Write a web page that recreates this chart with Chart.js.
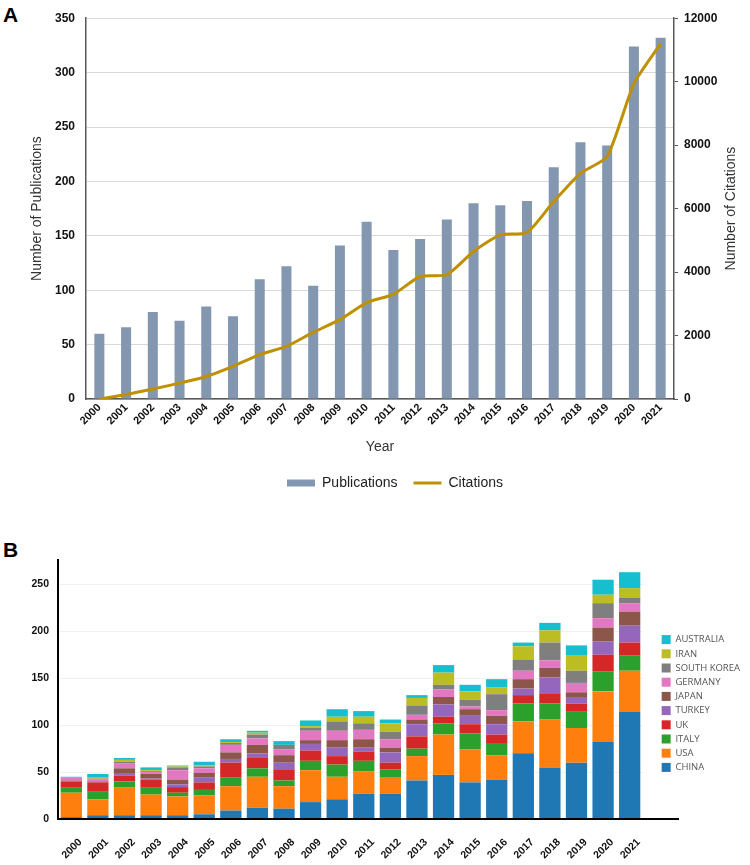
<!DOCTYPE html>
<html>
<head>
<meta charset="utf-8">
<script src="https://cdn.jsdelivr.net/npm/chart.js@4/dist/chart.umd.min.js"></script>
<style>
body { margin: 0; background: #fff; width: 750px; height: 865px; position: relative; overflow: hidden; font-family: 'Liberation Sans', Arial, sans-serif; }
.panel { position: absolute; left: 3px; font-weight: bold; font-size: 21px; color: #000; }
#chartA { position: absolute; left: 0; top: 0; }
#chartB { position: absolute; left: 0; top: 530px; }
</style>
</head>
<body>
<div class="panel" style="top:3px">A</div>
<div class="panel" style="top:538px">B</div>
<canvas id="chartA" width="750" height="500"></canvas>
<canvas id="chartB" width="750" height="335"></canvas>
<script>
var years = ['2000','2001','2002','2003','2004','2005','2006','2007','2008','2009','2010',
	'2011','2012','2013','2014','2015','2016','2017','2018','2019','2020','2021'];

// panel A
var publications = [60, 66, 80, 72, 85, 76, 110, 122, 104, 141, 163, 137, 147, 165, 180, 178, 182, 213, 236, 233, 324, 332];
var citations = [0, 140, 315, 500, 710, 1030, 1400, 1660, 2100, 2500, 3040, 3300, 3860, 3915, 4650, 5170, 5245, 6220, 7110, 7640, 9940, 11200];

// panel B, one array per country
var countries = ['CHINA', 'USA', 'ITALY', 'UK', 'TURKEY', 'JAPAN', 'GERMANY', 'SOUTH KOREA', 'IRAN', 'AUSTRALIA'];
var countryColors = ['#1f77b4', '#ff7f0e', '#2ca02c', '#d62728', '#9467bd', '#8c564b', '#e377c2', '#7f7f7f', '#bcbd22', '#17becf'];
var china = [2, 4, 4, 4, 4, 5, 9, 12, 11, 18, 21, 27, 27, 41, 47, 39, 42, 70, 55, 60, 82, 114];
var usa = [26, 17, 30, 22, 20, 20, 26, 33, 24, 34, 24, 24, 17, 26, 43, 35, 26, 34, 51, 37, 54, 44];
var italy = [6, 8, 6, 8, 4, 6, 9, 9, 6, 10, 13, 11, 9, 8, 12, 17, 13, 19, 17, 18, 21, 16];
var uk = [6, 10, 6, 8, 6, 8, 16, 11, 12, 11, 9, 10, 7, 13, 7, 10, 9, 9, 11, 8, 18, 14];
var turkey = [0, 0, 3, 1, 3, 5, 4, 5, 7, 7, 9, 4, 11, 13, 13, 9, 11, 7, 17, 7, 14, 18];
var japan = [1, 1, 5, 5, 5, 5, 7, 9, 8, 4, 8, 9, 5, 5, 8, 7, 9, 10, 10, 5, 15, 15];
var germany = [3, 2, 5, 2, 10, 5, 8, 7, 6, 10, 10, 10, 9, 5, 8, 3, 6, 9, 8, 10, 10, 9];
var southKorea = [0, 1, 2, 1, 3, 2, 2, 4, 5, 3, 10, 7, 8, 10, 5, 7, 17, 12, 19, 13, 16, 6];
var iran = [0, 1, 2, 1, 1, 1, 1, 2, 0, 2, 5, 7, 9, 8, 13, 9, 7, 14, 13, 16, 9, 10];
var australia = [1, 4, 2, 3, 1, 4, 3, 2, 4, 6, 8, 6, 4, 3, 8, 7, 9, 4, 8, 11, 16, 17];
var countryValues = [china, usa, italy, uk, turkey, japan, germany, southKorea, iran, australia];

var family = "'Liberation Sans', Arial, sans-serif";
Chart.defaults.font.family = family;
Chart.defaults.animation = false;

// right axis title reads bottom-to-top like the left one; legend nudged right
var panelA = {
	id: 'panelA',
	afterLayout: function(chart) {
		chart.legend.left += 20;
		chart.legend.right += 20;
	},
	afterDraw: function(chart) {
		var s = chart.scales.y2, ctx = chart.ctx;
		ctx.save();
		ctx.translate(s.right - 19, (s.top + s.bottom) / 2);
		ctx.rotate(-Math.PI / 2);
		ctx.font = '14px ' + family;
		ctx.fillStyle = '#333';
		ctx.textAlign = 'center';
		ctx.textBaseline = 'middle';
		ctx.fillText('Number of Citations', 0, 0);
		ctx.restore();
	}
};

new Chart(document.getElementById('chartA'), {
	data: {
		labels: years,
		datasets: [{
			type: 'bar', label: 'Publications', data: publications,
			backgroundColor: '#8497B0', barPercentage: 0.375, categoryPercentage: 1,
			yAxisID: 'y', order: 2, pointStyle: 'rect'
		}, {
			type: 'line', label: 'Citations', data: citations,
			borderColor: '#BF9000', backgroundColor: '#BF9000', borderWidth: 3,
			pointRadius: 0, tension: 0.2, yAxisID: 'y2', order: 1, pointStyle: 'line'
		}]
	},
	options: {
		responsive: false,
		layout: { padding: { top: 6 } },
		plugins: {
			tooltip: { enabled: false },
			legend: {
				position: 'bottom',
				labels: {
					usePointStyle: true, pointStyleWidth: 28, boxHeight: 7, padding: 16,
					color: '#222', font: { size: 14 },
					sort: function(a, b) { return a.datasetIndex - b.datasetIndex; }
				}
			}
		},
		scales: {
			x: {
				grid: { display: false, drawTicks: false },
				border: { color: '#595959', width: 1.5 },
				ticks: { minRotation: 45, maxRotation: 45, padding: 2, color: '#111', font: { size: 11, weight: 'bold' } },
				title: { display: true, text: 'Year', color: '#333', font: { size: 14 }, padding: { top: 0, bottom: 4 } },
				afterFit: function(s) { s.height = 61; }
			},
			y: {
				position: 'left', min: 0, max: 350,
				ticks: { stepSize: 50, padding: 11, color: '#111', font: { size: 12, weight: 'bold' } },
				grid: { color: '#d9d9d9', drawTicks: false },
				border: { color: '#595959', width: 1.5 },
				title: { display: true, text: 'Number of Publications', color: '#333', font: { size: 14 }, padding: { top: 29 } },
				afterFit: function(s) { s.width = 86; }
			},
			y2: {
				position: 'right', min: 0, max: 12000,
				ticks: {
					stepSize: 2000, padding: 6, color: '#111', font: { size: 12, weight: 'bold' },
					callback: function(v) { return String(v); }
				},
				grid: { drawOnChartArea: false, tickLength: 4, tickColor: '#595959' },
				border: { color: '#595959', width: 1.5 },
				afterFit: function(s) { s.width = 76; }
			}
		}
	},
	plugins: [panelA]
});

// x axis line in B runs on past the last bar; legend sits a bit off the plot
var panelB = {
	id: 'panelB',
	afterLayout: function(chart) {
		var lg = chart.legend;
		lg.left += 14;
		lg.right += 14;
		lg.top -= 9;
		lg.bottom -= 9;
	},
	afterDraw: function(chart) {
		var a = chart.chartArea, ctx = chart.ctx;
		ctx.save();
		ctx.strokeStyle = '#000';
		ctx.lineWidth = 2;
		ctx.beginPath();
		ctx.moveTo(a.left - 1, a.bottom);
		ctx.lineTo(a.right + 36, a.bottom);
		ctx.stroke();
		ctx.restore();
	}
};

var stackSets = [];
for (var i = 0; i < countries.length; i++) {
	stackSets.push({
		label: countries[i], data: countryValues[i],
		backgroundColor: countryColors[i], borderWidth: 0,
		barPercentage: 0.8, categoryPercentage: 1
	});
}

new Chart(document.getElementById('chartB'), {
	type: 'bar',
	data: { labels: years, datasets: stackSets },
	options: {
		responsive: false,
		layout: { padding: { top: 30, right: 14 } },
		plugins: {
			tooltip: { enabled: false },
			legend: {
				position: 'right', reverse: true,
				labels: { boxWidth: 9, boxHeight: 9, padding: 4.7, color: '#555', font: { family: "'Open Sans'", size: 9.5 } }
			}
		},
		scales: {
			x: {
				stacked: true,
				grid: { display: false, drawTicks: false },
				border: { display: false },
				ticks: { minRotation: 45, maxRotation: 45, labelOffset: 9, padding: 17, color: '#111', font: { size: 10.5, weight: 'bold' } },
				afterFit: function(s) { s.height = 46; }
			},
			y: {
				stacked: true, min: 0, max: 276,
				afterBuildTicks: function(ax) { ax.ticks = ax.ticks.filter(function(t) { return t.value % 50 === 0; }); },
				ticks: { stepSize: 50, padding: 9, color: '#111', font: { size: 10.5, weight: 'bold' } },
				grid: { color: '#f1f1f1', drawTicks: false },
				border: { color: '#000', width: 2 },
				afterFit: function(s) { s.width = 58; }
			}
		}
	},
	plugins: [panelB]
});
</script>
</body>
</html>
